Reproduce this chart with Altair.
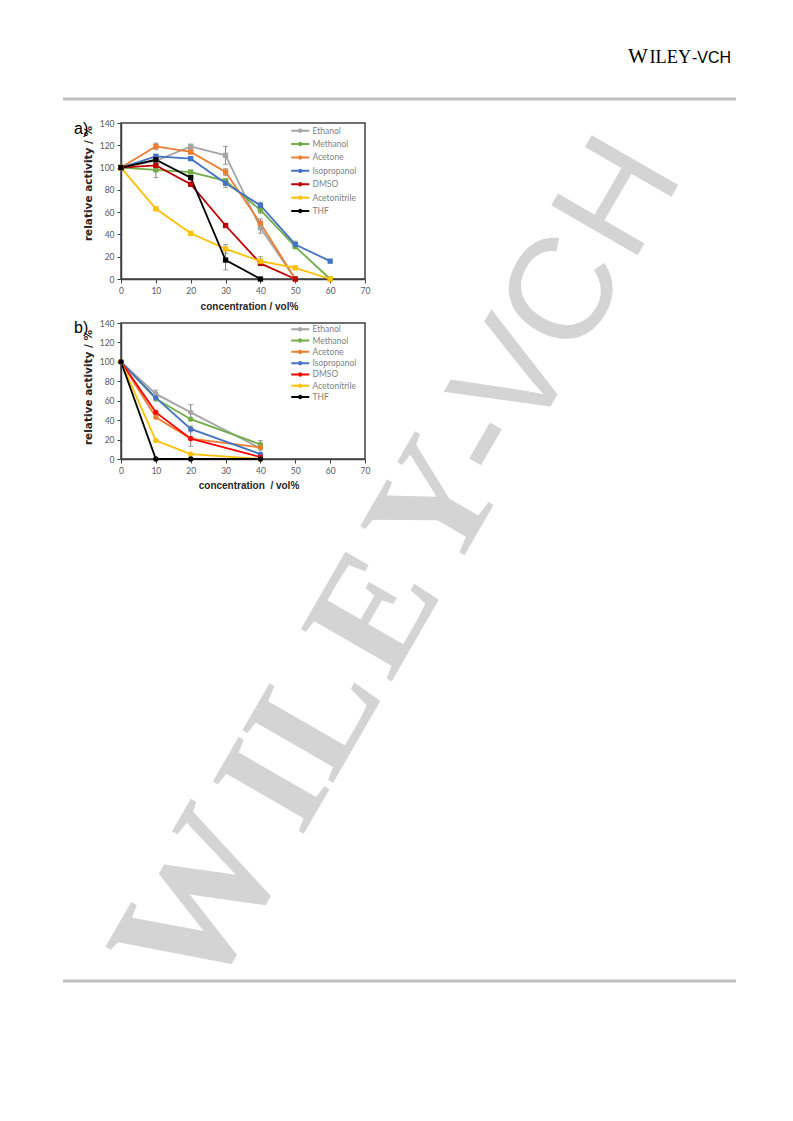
import math
import altair as alt
import pandas as pd

# ---------------- data ----------------
series = ["Ethanol", "Methanol", "Acetone", "Isopropanol", "DMSO", "Acetonitrile", "THF"]
colors_a = ["#a5a5a5", "#70ad47", "#ed7d31", "#4472c4", "#c00000", "#ffc000", "#000000"]
colors_b = ["#a5a5a5", "#70ad47", "#ed7d31", "#4472c4", "#ff0000", "#ffc000", "#000000"]

conc_a = [0, 10, 20, 30, 40, 50, 60]
ethanol_a = [100, 106, 119, 111, 46, 0]
methanol_a = [100, 98, 96, 88, 62, 29, 0]
acetone_a = [100, 119, 114, 96, 50, 0]
isopropanol_a = [100, 110, 108, 86, 66, 31, 16]
dmso_a = [100, 102, 85, 48, 14, 0]
acetonitrile_a = [100, 63, 41, 27, 16, 10, 0]
thf_a = [100, 107, 91, 17, 0]

err_ethanol_a = [0, 0, 2, 8, 5, 0]
err_methanol_a = [0, 7, 0, 0, 3, 0, 0]
err_acetone_a = [0, 3, 2, 3, 4, 0]
err_isopropanol_a = [0, 2, 0, 4, 3, 3, 0]
err_dmso_a = [0, 0, 0, 0, 0, 0]
err_acetonitrile_a = [0, 0, 0, 4, 4, 0, 0]
err_thf_a = [0, 0, 0, 9, 0]

conc_b = [0, 10, 20, 40]
ethanol_b = [100, 67, 48, 11]
methanol_b = [100, 62, 41, 15]
acetone_b = [100, 43, 21, 12]
isopropanol_b = [100, 63, 31, 5]
dmso_b = [100, 48, 21, 2]
acetonitrile_b = [100, 19, 5, 0]
thf_b = [100, 0, 0, 0]

err_ethanol_b = [2, 4, 8, 0]
err_methanol_b = [0, 0, 0, 4]
err_acetone_b = [0, 0, 0, 2]
err_isopropanol_b = [0, 3, 3, 0]
err_dmso_b = [0, 0, 8, 0]
err_acetonitrile_b = [0, 0, 0, 0]
err_thf_b = [0, 0, 0, 0]

x_ticks = [0, 10, 20, 30, 40, 50, 60, 70]
y_ticks = [0, 20, 40, 60, 80, 100, 120, 140]

# legend symbol: short line with a dot (unit path, scaled by symbol size)
LEG_SYM = "M-3,0L3,0M0.4,0A0.4,0.4,0,1,1,-0.4,0A0.4,0.4,0,1,1,0.4,0Z"


def build(conc, vals, errs):
    rows = []
    for name, v_list, e_list in zip(series, vals, errs):
        for c, v, e in zip(conc, v_list, e_list):
            rows.append({"series": name, "conc": c, "value": v,
                         "lo": v - e, "hi": v + e, "err": e})
    return pd.DataFrame(rows)


df_a = build(conc_a,
             [ethanol_a, methanol_a, acetone_a, isopropanol_a, dmso_a, acetonitrile_a, thf_a],
             [err_ethanol_a, err_methanol_a, err_acetone_a, err_isopropanol_a, err_dmso_a,
              err_acetonitrile_a, err_thf_a])
df_b = build(conc_b,
             [ethanol_b, methanol_b, acetone_b, isopropanol_b, dmso_b, acetonitrile_b, thf_b],
             [err_ethanol_b, err_methanol_b, err_acetone_b, err_isopropanol_b, err_dmso_b,
              err_acetonitrile_b, err_thf_b])

one = pd.DataFrame({"k": [0]})


def txt(s, x, y, **kw):
    return alt.Chart(one).mark_text(text=s, **kw).encode(x=alt.value(x), y=alt.value(y))


def panel(df, colors, legend_y, row_pad, x_title, xtitle_x, xtitle_pad, ytitle_y, ytitle_pad, shape):
    xs = alt.Scale(domain=[0, 70], nice=False, zero=False)
    ys = alt.Scale(domain=[0, 140], nice=False, zero=False)
    xaxis = alt.Axis(values=x_ticks, title=x_title, titleX=xtitle_x, titlePadding=xtitle_pad)
    yaxis = alt.Axis(values=y_ticks, title="relative activity / %", titleY=ytitle_y,
                     titlePadding=ytitle_pad, titleFont="DejaVu Sans", titleFontSize=10.5)

    def X(f):
        return alt.X(f, type="quantitative", scale=xs, axis=xaxis)

    def Y(f):
        return alt.Y(f, type="quantitative", scale=ys, axis=yaxis)

    base = alt.Chart(df)
    lines = base.mark_line(strokeWidth=1.8).encode(
        x=X("conc"), y=Y("value"),
        color=alt.Color("series:N", sort=series,
                        scale=alt.Scale(domain=series, range=colors),
                        legend=alt.Legend(title=None, orient="none", legendX=175, legendY=legend_y,
                                          symbolType=LEG_SYM, symbolSize=36, symbolStrokeWidth=2,
                                          labelFont="Lato", labelFontSize=8.5, labelColor="#7f7f7f",
                                          labelOffset=8, rowPadding=row_pad, padding=0)),
    )
    errs = base.transform_filter("datum.err > 0")
    rules = errs.mark_rule(color="#7f7f7f", strokeWidth=1).encode(x=X("conc"), y=Y("lo"), y2="hi:Q")
    cap_lo = errs.mark_tick(orient="horizontal", size=5, thickness=1, color="#7f7f7f").encode(
        x=X("conc"), y=Y("lo"))
    cap_hi = errs.mark_tick(orient="horizontal", size=5, thickness=1, color="#7f7f7f").encode(
        x=X("conc"), y=Y("hi"))
    points = base.mark_point(filled=True, shape=shape, size=28, opacity=1).encode(
        x=X("conc"), y=Y("value"),
        fill=alt.Fill("series:N", sort=series,
                      scale=alt.Scale(domain=series, range=colors), legend=None),
    )
    return [lines, rules, cap_lo, cap_hi, points]


# ---------------- panel a ----------------
layers_a = panel(df_a, colors_a, 3.4, 2.4, "concentration / vol%", 128, 7, 60, 6, "square")

# decoration relative to panel a plot origin (page 120,122)
corner = alt.Chart(one).mark_rule(color="white", strokeWidth=1).encode(
    x=alt.value(-111.5), x2=alt.value(-110.5), y=alt.value(-113.5))
top_line = alt.Chart(one).mark_rule(color="#c0c0c0", strokeWidth=3).encode(
    x=alt.value(-58), x2=alt.value(615), y=alt.value(-24))
bottom_line = alt.Chart(one).mark_rule(color="#c0c0c0", strokeWidth=3).encode(
    x=alt.value(-58), x2=alt.value(615), y=alt.value(858))
hdr = [
    txt("W", 507, -59.7, font="Liberation Serif", fontSize=21, align="left", baseline="alphabetic", color="#000000"),
    txt("ILEY", 528.5, -59.7, font="Liberation Serif", fontSize=18.3, align="left", baseline="alphabetic", color="#000000"),
    txt("-VCH", 571, -59.7, font="Liberation Sans", fontSize=16, align="left", baseline="alphabetic", color="#000000"),
]
label_a = txt("a)", -47, 11, font="Liberation Sans", fontSize=16, align="left", baseline="alphabetic", color="#000000")

# watermark letters along a baseline rising at 60 degrees
b0x, b0y = 85, 880
ca, sa = math.cos(math.radians(60)), math.sin(math.radians(60))
wm_color = "#d4d4d4"
wm = []
for ch, t, fs in [("W", 84, 176), ("I", 221, 160), ("L", 305, 160), ("E", 422, 160),
                  ("Y", 545, 160), ("-", 624, 160)]:
    wm.append(txt(ch, b0x + t * ca, b0y - t * sa, font="Liberation Serif", fontSize=fs,
                  fontWeight="bold", angle=300, align="center", baseline="alphabetic", color=wm_color))
for ch, t in [("V", 696), ("C", 793), ("H", 904)]:
    wm.append(txt(ch, b0x + t * ca, b0y - t * sa, font="Liberation Sans", fontSize=145,
                  angle=300, align="center", baseline="alphabetic", color=wm_color))

chart_a = alt.layer(corner, top_line, bottom_line, *layers_a, *hdr, label_a, *wm).properties(
    width=244, height=156)

# ---------------- panel b ----------------
layers_b = panel(df_b, colors_b, 2, 0.3, "concentration\u00a0 / vol%", 127.5, 5.5, 64, 6, "circle")
label_b = txt("b)", -47, 9.7, font="Liberation Sans", fontSize=16, align="left", baseline="alphabetic", color="#000000")
chart_b = alt.layer(*layers_b, label_b).properties(width=244, height=136)

chart = alt.vconcat(chart_a, chart_b, spacing=44, bounds="flush").resolve_scale(
    color="independent", fill="independent").resolve_legend(
    color="independent").properties(padding=0).configure_view(
    stroke="#404040", strokeWidth=1.5).configure_axis(
    grid=False, domainColor="#404040", domainWidth=1.5, tickColor="#404040", tickSize=4,
    tickWidth=1, labelFont="Lato", labelFontSize=8.5, labelColor="#595959", labelPadding=3,
    labelFlush=False, titleFont="Liberation Sans", titleFontSize=10, titleFontWeight="bold",
    titleColor="#262626")

chart.save("out.html", embed_options={"renderer": "svg", "actions": False})
